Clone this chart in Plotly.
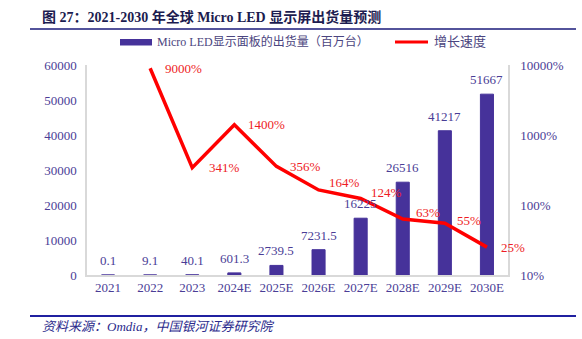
import math
import plotly.graph_objects as go

# ---- data ----
years = ["2021", "2022", "2023", "2024E", "2025E", "2026E", "2027E", "2028E", "2029E", "2030E"]
shipments = [0.1, 9.1, 40.1, 601.3, 2739.5, 7231.5, 16225, 26516, 41217, 51667]  # million units
shipment_labels = ["0.1", "9.1", "40.1", "601.3", "2739.5", "7231.5", "16225", "26516", "41217", "51667"]
growth = [None, 9000, 341, 1400, 356, 164, 124, 63, 55, 25]  # %
left_ticks = [0, 10000, 20000, 30000, 40000, 50000, 60000]
right_ticks = [10, 100, 1000, 10000]
right_tick_text = ["10%", "100%", "1000%", "10000%"]

W, H = 582, 339
L, R, T, B = 87, 74, 65, 64

BAR = "#46329a"
PURPLE_TXT = "#4a3d96"
RED = "#ff0000"
RED_TXT = "#ee1c25"
SERIF = "Liberation Serif, Noto Sans CJK SC, serif"
CJK = "Liberation Serif, Noto Sans CJK SC, sans-serif"


def px(x):
    return (x - L) / (W - L - R)


def py(y):
    return (H - B - y) / (H - T - B)


fig = go.Figure()
fig.add_trace(go.Bar(
    x=years, y=shipments, width=0.31,
    marker=dict(color=BAR, line=dict(color=BAR, width=1)),
    name="Micro LED显示面板的出货量（百万台）", hoverinfo="x+y",
))
fig.add_trace(go.Scatter(
    x=years, y=growth, yaxis="y2", mode="lines",
    line=dict(color=RED, width=3.5), name="增长速度",
))

annotations = []
# value labels above the bars (category positions given by index)
for i, (v, t) in enumerate(zip(shipments, shipment_labels)):
    annotations.append(dict(x=i, y=v, xref="x", yref="y", text=t, showarrow=False,
                            yanchor="bottom", yshift=5,
                            font=dict(family=SERIF, size=13, color=PURPLE_TXT)))

# growth labels next to the line points (pixel offsets)
offsets = [None, (33, 0), (32, 0), (32, 0), (29, 0), (26, 7), (26, 6), (25, 7), (24, 3), (26, 0)]
for i, (g, off) in enumerate(zip(growth, offsets)):
    if g is None:
        continue
    annotations.append(dict(x=i, y=math.log10(g), xref="x", yref="y2", text=f"{g}%",
                            showarrow=False, xshift=off[0], yshift=off[1],
                            font=dict(family=SERIF, size=13, color=RED_TXT)))

# title, legend and source texts
annotations += [
    dict(x=px(40), y=py(17), xref="paper", yref="paper", xanchor="left", yanchor="middle",
         text="<b>图 27：2021-2030 年全球 Micro LED 显示屏出货量预测</b>", showarrow=False,
         font=dict(family=CJK, size=14, color="#1c1c50")),
    dict(x=px(155), y=py(42), xref="paper", yref="paper", xanchor="left", yanchor="middle",
         text="Micro LED显示面板的出货量（百万台）", showarrow=False,
         font=dict(family=CJK, size=12, color="#4b4580")),
    dict(x=px(432), y=py(42), xref="paper", yref="paper", xanchor="left", yanchor="middle",
         text="增长速度", showarrow=False,
         font=dict(family=CJK, size=13, color="#4b4580")),
    dict(x=px(40), y=py(326), xref="paper", yref="paper", xanchor="left", yanchor="middle",
         text="<i>资料来源：Omdia，中国银河证券研究院</i>", showarrow=False,
         font=dict(family=CJK, size=13, color="#2b2b8c")),
]

shapes = [
    # rule under the title
    dict(type="line", xref="paper", yref="paper", x0=px(30), x1=px(576), y0=py(29), y1=py(29),
         line=dict(color="#1a1a7a", width=1.5)),
    # rule above the source
    dict(type="line", xref="paper", yref="paper", x0=px(30), x1=px(576), y0=py(316), y1=py(316),
         line=dict(color="#2020a0", width=2)),
    # legend swatches
    dict(type="rect", xref="paper", yref="paper", x0=px(120), x1=px(152), y0=py(45.5), y1=py(39),
         fillcolor=BAR, line=dict(width=0)),
    dict(type="line", xref="paper", yref="paper", x0=px(395), x1=px(428), y0=py(42), y1=py(42),
         line=dict(color=RED, width=3)),
    # leader lines for the 63% and 55% labels
    dict(type="path", xref="x", yref="y2", xsizemode="pixel", ysizemode="pixel",
         xanchor=7, yanchor=math.log10(63), path="M0,0 L0,7 L8,7",
         line=dict(color="#a0a0a0", width=1)),
    dict(type="path", xref="x", yref="y2", xsizemode="pixel", ysizemode="pixel",
         xanchor=8, yanchor=math.log10(55), path="M0,0 L23,-7",
         line=dict(color="#a0a0a0", width=1)),
]

axis_line = "#d9d9d9"
fig.update_layout(
    width=W, height=H, margin=dict(l=L, r=R, t=T, b=B),
    paper_bgcolor="white", plot_bgcolor="white", showlegend=False,
    annotations=annotations, shapes=shapes,
    xaxis=dict(type="category", range=[-0.5, len(years) - 0.5], showline=True,
               linecolor=axis_line, linewidth=1.5, showgrid=False, ticks="",
               tickfont=dict(family=SERIF, size=13, color=PURPLE_TXT)),
    yaxis=dict(range=[0, 60000], tickvals=left_ticks, ticktext=[str(t) for t in left_ticks],
               showline=True, linecolor=axis_line, linewidth=1.5, showgrid=False,
               zeroline=False, ticks="", ticklabelstandoff=6,
               tickfont=dict(family=SERIF, size=13, color=PURPLE_TXT)),
    yaxis2=dict(type="log", range=[1, 4], overlaying="y", side="right",
                tickvals=right_ticks, ticktext=right_tick_text, showline=True,
                linecolor=axis_line, linewidth=1.5, showgrid=False, ticks="",
                ticklabelstandoff=8, tickfont=dict(family=SERIF, size=13, color=PURPLE_TXT)),
)

fig.write_html("out.html")
